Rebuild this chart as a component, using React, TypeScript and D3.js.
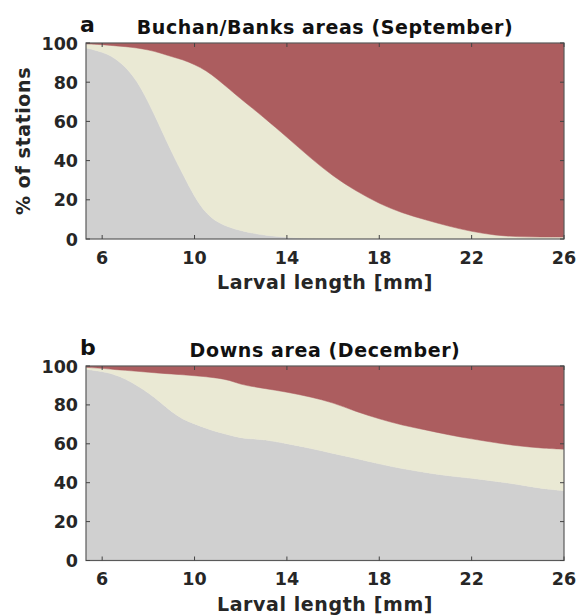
import React, { useEffect, useRef } from 'react';
import * as d3 from 'd3';

// larval length (mm)
const lengths = [5.3, 6, 6.5, 7, 7.5, 8, 8.5, 9, 9.5, 10, 10.5, 11, 11.5, 12, 12.5, 13, 14, 15, 16, 17, 18, 19, 20, 21, 22, 23, 24, 25, 26];

// Buchan/Banks areas (September) - % of stations per class
const buchanGrey = [97.5, 95.5, 92.8, 88, 81, 70, 57.5, 44.5, 33, 21.5, 13, 8.5, 6, 4.3, 3.0, 2.0, 0.8, 0.3, 0, 0, 0, 0, 0, 0, 0, 0, 0, 0, 0];
const buchanCream = [2.0, 3.7, 5.8, 10.2, 16.5, 26.5, 37.5, 48.5, 58.5, 67.5, 73, 73, 70.5, 67.2, 63.8, 60, 51.2, 41.2, 32, 24.4, 18, 13.2, 9.8, 6.5, 3.8, 1.9, 1.1, 1.0, 1.0];
const buchanRed = [0.5, 0.8, 1.4, 1.8, 2.5, 3.5, 5.0, 7, 8.5, 11, 14, 18.5, 23.5, 28.5, 33.2, 38, 48, 58.5, 68, 75.6, 82, 86.8, 90.2, 93.5, 96.2, 98.1, 98.9, 99, 99];

// Downs area (December)
const downsGrey = [98.3, 97.2, 95.8, 93.5, 90, 86.3, 81.5, 76.5, 72.5, 70.2, 68, 66, 64.5, 63, 62.5, 62.2, 60.1, 57.8, 55, 52.5, 49.6, 47.2, 45.2, 43.5, 42.3, 40.8, 39.2, 37, 35.9];
const downsCream = [1.0, 1.6, 2.4, 4.3, 7.3, 10.5, 14.8, 19.4, 23.0, 24.8, 26.5, 27.8, 28.3, 27.5, 27, 26.3, 26.5, 26.4, 26.2, 24, 23.2, 22.3, 22, 21.1, 20.2, 19.8, 19.7, 20.8, 21.3];
const downsRed = [0.7, 1.2, 1.8, 2.2, 2.7, 3.2, 3.7, 4.1, 4.5, 5.0, 5.5, 6.2, 7.2, 9.5, 10.5, 11.5, 13.4, 15.8, 18.8, 23.5, 27.2, 30.5, 32.8, 35.4, 37.5, 39.4, 41.1, 42.2, 42.8];

const xTicks = [6, 10, 14, 18, 22, 26];
const yTicks = [0, 20, 40, 60, 80, 100];
const classKeys = ['grey', 'cream', 'red'];
const classColors = ['#d0d0d0', '#eae9d4', '#ac5d5f'];

const W = 580;
const H = 615;

export default function App() {
  const svgRef = useRef<SVGSVGElement>(null);

  useEffect(() => {
    if (!svgRef.current) return;
    const svg = d3.select(svgRef.current);
    svg.selectAll('*').remove();

    const left = 86;
    const right = 564;
    const font = '"DejaVu Sans", sans-serif';
    const textColor = '#262626';

    const x = d3.scaleLinear().domain([5.3, 26]).range([left, right]);

    const panels = [
      { top: 43, bottom: 239, letter: 'a', title: 'Buchan/Banks areas (September)', grey: buchanGrey, cream: buchanCream, red: buchanRed, ylabel: true },
      { top: 366, bottom: 560.5, letter: 'b', title: 'Downs area (December)', grey: downsGrey, cream: downsCream, red: downsRed, ylabel: false }
    ];

    panels.forEach((p, pi) => {
      const g = svg.append('g');
      const y = d3.scaleLinear().domain([0, 100]).range([p.bottom, p.top]);

      const rows = lengths.map((len, i) => ({ len, grey: p.grey[i], cream: p.cream[i], red: p.red[i] }));
      const series = d3.stack<any>().keys(classKeys)(rows);

      const clipId = `clip-${pi}`;
      g.append('clipPath').attr('id', clipId)
        .append('rect')
        .attr('x', left).attr('y', p.top)
        .attr('width', right - left).attr('height', p.bottom - p.top);

      const area = d3.area<any>()
        .x(d => x(d.data.len))
        .y0(d => y(d[0]))
        .y1(d => y(d[1]))
        .curve(d3.curveBasis);

      g.append('g').attr('clip-path', `url(#${clipId})`)
        .selectAll('path')
        .data(series)
        .enter()
        .append('path')
        .attr('d', area)
        .attr('fill', (_, i) => classColors[i])
        .attr('stroke', (_, i) => classColors[i])
        .attr('stroke-width', 0.5);

      // frame
      g.append('rect')
        .attr('x', left).attr('y', p.top)
        .attr('width', right - left).attr('height', p.bottom - p.top)
        .attr('fill', 'none')
        .attr('stroke', '#5a5a5a')
        .attr('stroke-width', 1.2);

      // inward ticks on all sides
      const tl = 4;
      xTicks.forEach(t => {
        g.append('line').attr('x1', x(t)).attr('x2', x(t)).attr('y1', p.bottom).attr('y2', p.bottom - tl)
          .attr('stroke', '#444').attr('stroke-width', 1);
        g.append('line').attr('x1', x(t)).attr('x2', x(t)).attr('y1', p.top).attr('y2', p.top + tl)
          .attr('stroke', '#444').attr('stroke-width', 1);
        g.append('text')
          .attr('x', x(t)).attr('y', p.bottom + 24.5)
          .attr('text-anchor', 'middle')
          .style('font-family', font).style('font-weight', 'bold').style('font-size', '17.5px')
          .style('fill', textColor)
          .text(t);
      });
      yTicks.forEach(t => {
        g.append('line').attr('x1', left).attr('x2', left + tl).attr('y1', y(t)).attr('y2', y(t))
          .attr('stroke', '#444').attr('stroke-width', 1);
        g.append('line').attr('x1', right).attr('x2', right - tl).attr('y1', y(t)).attr('y2', y(t))
          .attr('stroke', '#444').attr('stroke-width', 1);
        g.append('text')
          .attr('x', left - 8).attr('y', y(t) + 6.5)
          .attr('text-anchor', 'end')
          .style('font-family', font).style('font-weight', 'bold').style('font-size', '17.5px')
          .style('fill', textColor)
          .text(t);
      });

      // titles
      g.append('text')
        .attr('x', (left + right) / 2).attr('y', p.top - 9.5)
        .attr('text-anchor', 'middle')
        .style('font-family', font).style('font-weight', 'bold').style('font-size', '19px')
        .style('letter-spacing', '0.6px')
        .style('fill', '#111')
        .text(p.title);

      g.append('text')
        .attr('x', 80).attr('y', p.top - 11)
        .style('font-family', font).style('font-weight', 'bold').style('font-size', '22px')
        .style('fill', '#111')
        .text(p.letter);

      g.append('text')
        .attr('x', (left + right) / 2).attr('y', p.bottom + 50)
        .attr('text-anchor', 'middle')
        .style('font-family', font).style('font-weight', 'bold').style('font-size', '19px')
        .style('letter-spacing', '0.6px')
        .style('fill', textColor)
        .text('Larval length [mm]');

      if (p.ylabel) {
        g.append('text')
          .attr('transform', `translate(30, ${(p.top + p.bottom) / 2}) rotate(-90)`)
          .attr('text-anchor', 'middle')
          .style('font-family', font).style('font-weight', 'bold').style('font-size', '19px')
          .style('letter-spacing', '0.6px')
          .style('fill', textColor)
          .text('% of stations');
      }
    });
  }, []);

  return (
    <svg
      ref={svgRef}
      width={W}
      height={H}
      style={{ position: 'absolute', left: 0, top: 0, background: '#fff' }}
    />
  );
}
